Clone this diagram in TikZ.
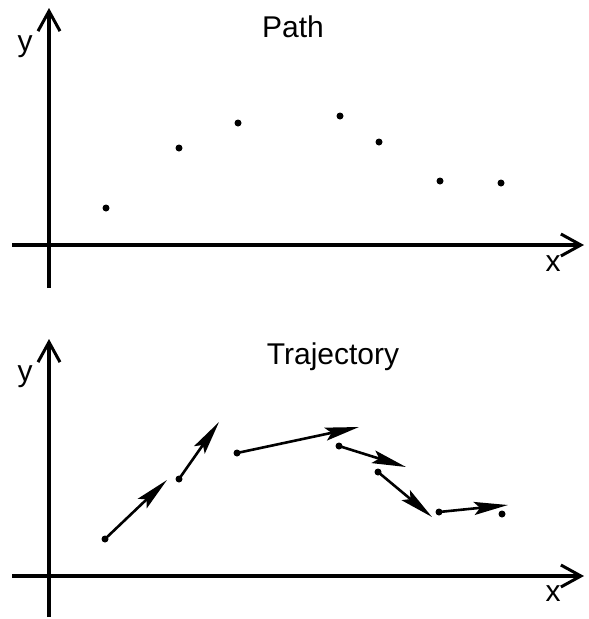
\documentclass[tikz,border=0pt]{standalone}
\usepackage{fontspec}
\setmainfont{Liberation Sans}
\usetikzlibrary{arrows.meta}
\begin{document}
\begin{tikzpicture}[x=1pt,y=-1pt,
  axis/.style={line width=3.4pt,-{Straight Barb[length=20pt,width=22pt,line width=3pt]}},
  lbl/.style={font=\fontsize{30}{32}\selectfont,inner sep=0pt},
  dot/.style={circle,fill=black,inner sep=0pt,minimum size=7pt},
  vec/.style={line width=2.6pt,-{Stealth[length=34pt,width=13pt,inset=6pt]}}]
\useasboundingbox (0,0) rectangle (589,619);
% top plot
\coordinate (ty0) at (49,288);
\coordinate (ty1) at (49,8);
\coordinate (tx0) at (12,245);
\coordinate (tx1) at (584,245);
\draw[axis] (ty0) -- (ty1);
\draw[axis] (tx0) -- (tx1);
\node[lbl] (tylab) at (25,47) {y};
\node[lbl] (txlab) at (553,264) {x};
\node[lbl] (ptitle) at (293,27) {Path};
\node[dot] (p1) at (106,208) {};
\node[dot] (p2) at (179,148) {};
\node[dot] (p3) at (238,123) {};
\node[dot] (p4) at (340,116) {};
\node[dot] (p5) at (379,142) {};
\node[dot] (p6) at (440,181) {};
\node[dot] (p7) at (501,183) {};
% bottom plot
\coordinate (by0) at (49,617);
\coordinate (by1) at (49,339);
\coordinate (bx0) at (12,576);
\coordinate (bx1) at (584,576);
\draw[axis] (by0) -- (by1);
\draw[axis] (bx0) -- (bx1);
\node[lbl] (bylab) at (25,377) {y};
\node[lbl] (bxlab) at (553,594) {x};
\node[lbl] (ttitle) at (333,357) {Trajectory};
\node[dot] (q1) at (105,539) {};
\node[dot] (q2) at (179,479) {};
\node[dot] (q3) at (237,453) {};
\node[dot] (q4) at (339,446) {};
\node[dot] (q5) at (378,472) {};
\node[dot] (q6) at (439,512) {};
\node[dot] (q7) at (502,514) {};
\coordinate (v1) at (167,480);
\coordinate (v2) at (219,422);
\coordinate (v3) at (359,427);
\coordinate (v4) at (406,467);
\coordinate (v5) at (432,517);
\coordinate (v6) at (508,505);
\draw[vec] (q1.center) -- (v1);
\draw[vec] (q2.center) -- (v2);
\draw[vec] (q3.center) -- (v3);
\draw[vec] (q4.center) -- (v4);
\draw[vec] (q5.center) -- (v5);
\draw[vec] (q6.center) -- (v6);
\end{tikzpicture}
\end{document}
